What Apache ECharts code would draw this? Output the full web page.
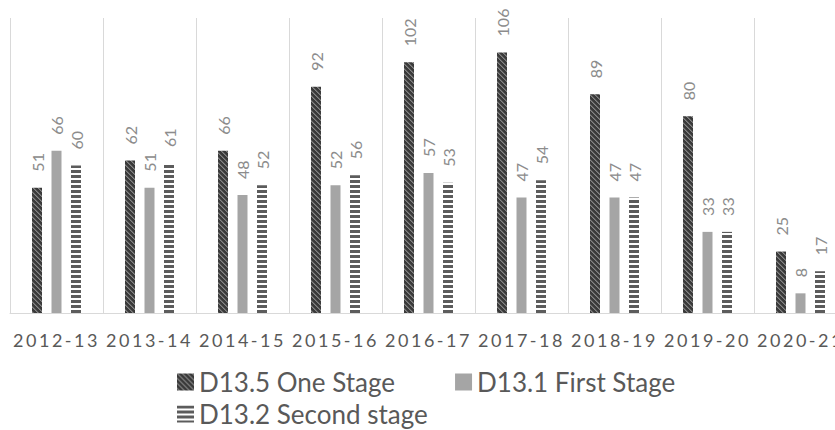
<!DOCTYPE html>
<html>
<head>
<meta charset="utf-8">
<script src="https://cdn.jsdelivr.net/npm/echarts@6/dist/echarts.min.js"></script>
<style>
html,body{margin:0;padding:0;background:#fff;}
#chart{width:835px;height:430px;}
</style>
</head>
<body>
<div id="chart"></div>
<script>
const categories = ['2012-13','2013-14','2014-15','2015-16','2016-17','2017-18','2018-19','2019-20','2020-21'];
const oneStage    = [51, 62, 66, 92, 102, 106, 89, 80, 25];
const firstStage  = [66, 51, 48, 52, 57, 47, 47, 33, 8];
const secondStage = [60, 61, 52, 56, 53, 54, 47, 33, 17];
const seriesNames = ['D13.5 One Stage', 'D13.1 First Stage', 'D13.2 Second stage'];

function diagTile() {
  const n = 5;
  const c = document.createElement('canvas');
  c.width = n; c.height = n;
  const ctx = c.getContext('2d');
  ctx.fillStyle = '#3a3a3a';
  ctx.fillRect(0, 0, n, n);
  for (let y = 0; y < n; y++) {
    for (let x = 0; x < n; x++) {
      const d = ((x - y) % n + n) % n;
      if (d === 0) { ctx.fillStyle = '#858585'; ctx.fillRect(x, y, 1, 1); }
      if (d === 1) { ctx.fillStyle = '#626262'; ctx.fillRect(x, y, 1, 1); }
    }
  }
  return c;
}
function stripeTile() {
  const c = document.createElement('canvas');
  c.width = 4; c.height = 5;
  const ctx = c.getContext('2d');
  ctx.fillStyle = '#ffffff';
  ctx.fillRect(0, 0, 4, 5);
  ctx.fillStyle = '#5c5c5c';
  ctx.fillRect(0, 0, 4, 3);
  return c;
}

const diagPattern = { image: diagTile(), repeat: 'repeat' };
const stripePattern = { image: stripeTile(), repeat: 'repeat' };

const chart = echarts.init(document.getElementById('chart'), null, { renderer: 'svg' });

const labelCfg = {
  show: true,
  position: 'top',
  rotate: 90,
  align: 'left',
  verticalAlign: 'middle',
  distance: 16,
  color: '#8c8c8c',
  fontFamily: 'Lato',
  fontSize: 16
};

const legendText = { color: '#595959', fontFamily: 'Lato', fontSize: 26 };

chart.setOption({
  animation: false,
  backgroundColor: '#ffffff',
  grid: { left: 10, width: 837, top: 18, height: 295, containLabel: false, outerBoundsMode: 'none' },
  legend: [
    { data: [seriesNames[0], seriesNames[1]], icon: 'rect', left: 172, top: 364, itemWidth: 17, itemHeight: 17, itemGap: 60, textStyle: legendText, selectedMode: false },
    { data: [seriesNames[2]], icon: 'rect', left: 172, top: 396, itemWidth: 17, itemHeight: 17, textStyle: legendText, selectedMode: false }
  ],
  xAxis: {
    type: 'category',
    data: categories,
    boundaryGap: true,
    axisLine: { show: true, lineStyle: { color: '#d9d9d9', width: 1 } },
    axisTick: { show: false },
    axisLabel: { interval: 0, margin: 18, color: '#595958', fontFamily: 'Lato', fontSize: 18 },
    splitLine: { show: true, interval: 0, lineStyle: { color: '#d9d9d9', width: 1 } }
  },
  yAxis: {
    type: 'value',
    min: 0,
    max: 120,
    show: false,
    splitLine: { show: false }
  },
  series: [
    { name: seriesNames[0], type: 'bar', data: oneStage, barWidth: 10, barGap: '95%', itemStyle: { color: diagPattern }, label: labelCfg },
    { name: seriesNames[1], type: 'bar', data: firstStage, barWidth: 10, barGap: '95%', itemStyle: { color: '#a5a5a5' }, label: labelCfg },
    { name: seriesNames[2], type: 'bar', data: secondStage, barWidth: 10, barGap: '95%', itemStyle: { color: stripePattern }, label: labelCfg }
  ]
});

function spaceAxisLabels() {
  const texts = document.querySelectorAll('#chart svg text');
  texts.forEach(t => {
    if (/^\d{4}-\d{2}$/.test(t.textContent.trim())) {
      t.setAttribute('letter-spacing', '2.5');
      t.style.letterSpacing = '2.5px';
    }
  });
}
chart.on('finished', spaceAxisLabels);
spaceAxisLabels();
</script>
</body>
</html>
